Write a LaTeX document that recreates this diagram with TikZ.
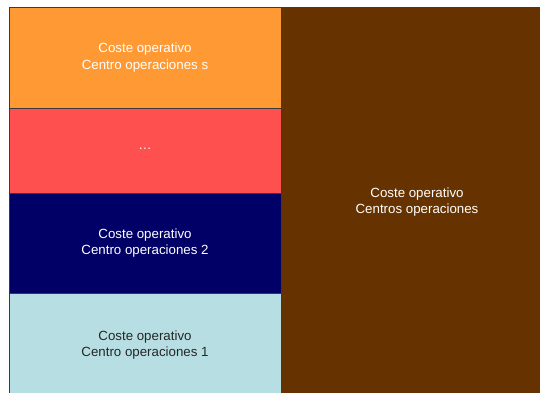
\documentclass[tikz,border=0pt]{standalone}
\usepackage{fontspec}
\setmainfont{Liberation Sans}
\definecolor{cOrange}{HTML}{FF9933}
\definecolor{cRed}{HTML}{FF5050}
\definecolor{cNavy}{HTML}{000066}
\definecolor{cLight}{HTML}{B7DFE3}
\definecolor{cBrown}{HTML}{663300}
\definecolor{cEdge}{HTML}{3A3A3A}
\begin{document}
\begin{tikzpicture}[x=1pt,y=-1pt,
  block/.style={draw=cEdge,line width=0.8pt,rectangle,inner sep=0pt,align=center,
    font=\fontsize{13.3}{16.8}\selectfont},
]
\useasboundingbox (0,0) rectangle (540,392);
\clip (0,0) rectangle (540,392);
\fill[white] (0,0) rectangle (540,392);
\node[block,fill=cBrown,text=white,minimum width=272pt,minimum height=390pt] (tot) at (417,202)
  {Coste operativo\\Centros operaciones};
\node[block,fill=cOrange,text=white,minimum width=272pt,minimum height=101pt] (cs) at (145,57.5)
  {\raisebox{-2pt}{\shortstack{Coste operativo\\[1pt]Centro operaciones s}}};
\node[block,fill=cRed,text=white,minimum width=272pt,minimum height=85pt] (cd) at (145,150.5)
  {\raisebox{3pt}{\dots}};
\node[block,fill=cNavy,text=white,minimum width=272pt,minimum height=100pt] (c2) at (145,243)
  {Coste operativo\\Centro operaciones 2};
\node[block,fill=cLight,text=black!85,minimum width=272pt,minimum height=104pt] (c1) at (145,345)
  {Coste operativo\\Centro operaciones 1};
\end{tikzpicture}
\end{document}
